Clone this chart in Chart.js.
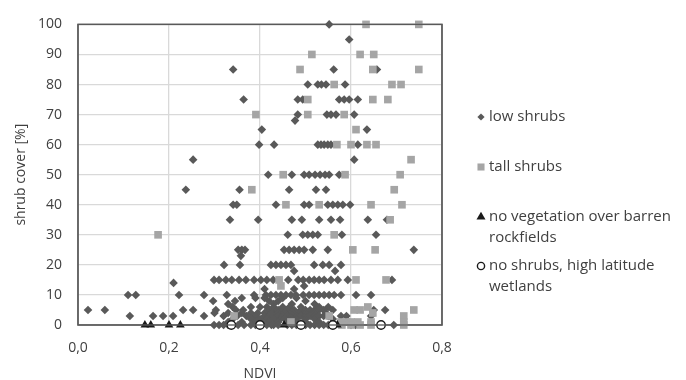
<!DOCTYPE html>
<html><head><meta charset="utf-8">
<script src="https://cdn.jsdelivr.net/npm/chart.js@4.4.1/dist/chart.umd.min.js"></script>
<style>html,body{margin:0;padding:0;background:#fff;}#wrap{width:686px;height:380px;}</style>
</head><body><div id="wrap"><canvas id="c" width="686" height="380"></canvas></div>
<script>
// Each row: [shrub cover %, [NDVI values at that cover]]
const lowShrubsRows = [
  [100, [0.552]],
  [95, [0.596]],
  [85, [0.341, 0.562, 0.657]],
  [80, [0.505, 0.527, 0.535, 0.545, 0.587]],
  [75, [0.364, 0.483, 0.494, 0.574, 0.585, 0.596, 0.615]],
  [70, [0.483, 0.547, 0.556, 0.567, 0.607]],
  [68, [0.477]],
  [65, [0.404, 0.635]],
  [60, [0.398, 0.431, 0.527, 0.534, 0.541, 0.549, 0.556, 0.615]],
  [55, [0.253, 0.607]],
  [50, [0.418, 0.47, 0.497, 0.508, 0.521, 0.532, 0.543, 0.552, 0.574]],
  [45, [0.237, 0.355, 0.464, 0.523, 0.545]],
  [40, [0.341, 0.349, 0.435, 0.497, 0.508, 0.549, 0.56, 0.571, 0.582, 0.598]],
  [35, [0.334, 0.396, 0.47, 0.492, 0.53, 0.556, 0.576, 0.637, 0.679]],
  [30, [0.461, 0.494, 0.505, 0.516, 0.527, 0.58, 0.655]],
  [25, [0.352, 0.36, 0.367, 0.453, 0.464, 0.475, 0.486, 0.497, 0.516, 0.549, 0.738]],
  [23, [0.358]],
  [20, [0.321, 0.356, 0.424, 0.435, 0.446, 0.457, 0.468, 0.519, 0.538, 0.552, 0.578]],
  [18, [0.475, 0.565]],
  [15, [0.299, 0.31, 0.325, 0.338, 0.354, 0.369, 0.387, 0.402, 0.415, 0.429, 0.462, 0.484, 0.495, 0.508, 0.519, 0.53, 0.541, 0.556, 0.571, 0.593, 0.69]],
  [14, [0.21]],
  [13, [0.497]],
  [12, [0.475, 0.41]],
  [10, [0.11, 0.127, 0.222, 0.277, 0.327, 0.387, 0.413, 0.424, 0.435, 0.446, 0.457, 0.468, 0.479, 0.495, 0.508, 0.519, 0.53, 0.541, 0.552, 0.563, 0.578, 0.611, 0.644]],
  [9, [0.36, 0.39, 0.41, 0.45, 0.48]],
  [8, [0.297, 0.345, 0.42, 0.44, 0.5]],
  [7, [0.33, 0.47, 0.52, 0.43]],
  [6, [0.34, 0.38, 0.4, 0.415, 0.43, 0.45, 0.465, 0.49, 0.53, 0.55]],
  [5, [0.022, 0.059, 0.231, 0.253, 0.303, 0.347, 0.363, 0.42, 0.43, 0.44, 0.45, 0.46, 0.475, 0.49, 0.5, 0.51, 0.52, 0.53, 0.54, 0.56, 0.65, 0.675]],
  [4, [0.3, 0.33, 0.36, 0.38, 0.395, 0.41, 0.425, 0.44, 0.455, 0.47, 0.485, 0.5, 0.52, 0.545]],
  [3, [0.114, 0.165, 0.187, 0.209, 0.277, 0.32, 0.35, 0.37, 0.39, 0.41, 0.42, 0.43, 0.44, 0.45, 0.46, 0.47, 0.48, 0.49, 0.5, 0.51, 0.52, 0.53, 0.54, 0.55, 0.578, 0.59, 0.644]],
  [2, [0.34, 0.38, 0.4, 0.415, 0.43, 0.445, 0.455, 0.47, 0.48, 0.5, 0.52, 0.56]],
  [1, [0.33, 0.36, 0.39, 0.405, 0.42, 0.44, 0.46, 0.475, 0.5, 0.53]],
  [0, [0.299, 0.31, 0.32, 0.33, 0.352, 0.365, 0.38, 0.39, 0.415, 0.425, 0.43, 0.44, 0.46, 0.47, 0.48, 0.5, 0.51, 0.52, 0.53, 0.54, 0.55, 0.6, 0.61, 0.694]]
];
const tallShrubsRows = [
  [100, [0.633, 0.749]],
  [90, [0.514, 0.62, 0.65]],
  [85, [0.488, 0.648, 0.749]],
  [80, [0.563, 0.69, 0.71]],
  [75, [0.505, 0.648, 0.681]],
  [70, [0.391, 0.505, 0.585]],
  [65, [0.611]],
  [60, [0.569, 0.6, 0.635, 0.655]],
  [55, [0.732]],
  [50, [0.451, 0.587, 0.708]],
  [45, [0.382, 0.695]],
  [40, [0.457, 0.53, 0.644, 0.712]],
  [35, [0.686]],
  [30, [0.176, 0.563]],
  [25, [0.604, 0.653]],
  [15, [0.442, 0.611, 0.677]],
  [13, [0.446]],
  [6, [0.637]],
  [5, [0.607, 0.62, 0.738]],
  [4, [0.648]],
  [3, [0.343, 0.552, 0.716]],
  [1, [0.468, 0.578, 0.59, 0.6, 0.615, 0.644, 0.716]],
  [0, [0.58, 0.6, 0.62, 0.644, 0.716]]
];
const barrenNdvi = [0.147, 0.16, 0.2, 0.225, 0.453, 0.57];
const barrenCover = [0, 0, 0, 0, 0, 0];
const wetlandNdvi = [0.337, 0.4, 0.49, 0.56, 0.666];
const wetlandCover = [0, 0, 0, 0, 0];

const seriesLabels = [
  ['low shrubs'],
  ['tall shrubs'],
  ['no vegetation over barren', 'rockfields'],
  ['no shrubs, high latitude', 'wetlands']
];
const xTicks = [0, 0.2, 0.4, 0.6, 0.8];
const yTicks = [0, 10, 20, 30, 40, 50, 60, 70, 80, 90, 100];

const fromRows = rows => rows.flatMap(([c, xs]) => xs.map(x => ({x: x, y: c})));
const fromArrays = (xs, ys) => xs.map((x, i) => ({x: x, y: ys[i]}));

const FONT = '"Open Sans", "Liberation Sans", sans-serif';
const TXT = '#404040';

const styles = [
  {pointStyle: 'rectRot', radius: 4.3, bg: '#595959', bc: '#595959', bw: 0, lr: 3.6},
  {pointStyle: 'rect', radius: 5.4, bg: '#a5a5a5', bc: '#a5a5a5', bw: 0, lr: 5},
  {pointStyle: 'triangle', radius: 5, bg: '#1a1a1a', bc: '#1a1a1a', bw: 0, lr: 5.2},
  {pointStyle: 'circle', radius: 4.2, bg: '#ffffff', bc: '#1a1a1a', bw: 1.4, lr: 3.6}
];
const legendLayout = {markerX: 481, textX: 489, rows: [117, 167, 217, 266], lineGap: 20.5};

const legendPlugin = {
  id: 'customLegend',
  afterDraw(chart) {
    const ctx = chart.ctx;
    ctx.save();
    ctx.font = '15px ' + FONT;
    ctx.textBaseline = 'middle';
    ctx.textAlign = 'left';
    seriesLabels.forEach((lines, i) => {
      const s = styles[i];
      const y = legendLayout.rows[i];
      ctx.fillStyle = s.bg;
      ctx.strokeStyle = s.bc;
      ctx.lineWidth = s.bw;
      Chart.helpers.drawPoint(ctx, {pointStyle: s.pointStyle, radius: s.lr, rotation: 0, borderWidth: s.bw}, legendLayout.markerX, y);
      ctx.fillStyle = TXT;
      lines.forEach((t, k) => ctx.fillText(t, legendLayout.textX, y + k * legendLayout.lineGap));
    });
    ctx.restore();
  }
};
const drawFrame = chart => {
  const a = chart.chartArea, ctx = chart.ctx;
  ctx.save();
  ctx.strokeStyle = '#595959';
  ctx.lineWidth = 1.3;
  ctx.strokeRect(a.left, a.top, a.right - a.left, a.bottom - a.top);
  ctx.restore();
};
const framePlugin = {
  id: 'frame',
  beforeDatasetsDraw: drawFrame,
  afterDatasetsDraw: drawFrame
};

const allData = [
  fromRows(lowShrubsRows),
  fromRows(tallShrubsRows),
  fromArrays(barrenNdvi, barrenCover),
  fromArrays(wetlandNdvi, wetlandCover)
];
const orders = [4, 3, 2, 1];

new Chart(document.getElementById('c'), {
  type: 'scatter',
  data: {
    datasets: allData.map((d, i) => ({
      label: seriesLabels[i].join(' '),
      data: d,
      order: orders[i],
      pointStyle: styles[i].pointStyle,
      pointRadius: styles[i].radius,
      pointHoverRadius: styles[i].radius,
      backgroundColor: styles[i].bg,
      borderColor: styles[i].bc,
      borderWidth: styles[i].bw,
      clip: false
    }))
  },
  options: {
    responsive: false,
    animation: false,
    events: [],
    layout: {padding: {top: 20, right: 244, left: 0, bottom: 0}},
    plugins: {legend: {display: false}, tooltip: {enabled: false}},
    scales: {
      x: {
        type: 'linear', min: 0, max: 0.8,
        afterFit(s) { s.height = 55; },
        afterBuildTicks(s) { s.ticks = xTicks.map(v => ({value: v})); },
        grid: {color: '#d9d9d9', lineWidth: 1.3, drawTicks: false},
        border: {display: false},
        ticks: {color: TXT, font: {family: FONT, size: 14}, padding: 15, maxRotation: 0,
          callback: v => v.toFixed(1).replace('.', ',')},
        title: {display: true, text: 'NDVI', color: TXT, font: {family: FONT, size: 14}, padding: {top: 0, bottom: -2}}
      },
      y: {
        type: 'linear', min: 0, max: 100,
        afterFit(s) { s.width = 78; },
        afterBuildTicks(s) { s.ticks = yTicks.map(v => ({value: v})); },
        grid: {color: '#d9d9d9', lineWidth: 1.3, drawTicks: false},
        border: {display: false},
        ticks: {color: TXT, font: {family: FONT, size: 14}, padding: 16},
        title: {display: true, text: 'shrub cover [%]', color: TXT, font: {family: FONT, size: 14}, padding: {top: 13, bottom: 0}}
      }
    }
  },
  plugins: [framePlugin, legendPlugin]
});
</script></body></html>
